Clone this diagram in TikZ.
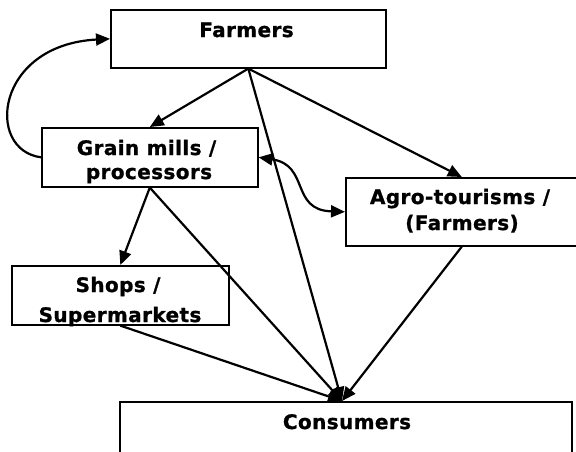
\documentclass[tikz,border=0pt]{standalone}
\usepackage{fontspec}
\setmainfont{DejaVu Sans}
\newfontfamily\lblfont{DejaVu Sans}[LetterSpace=2,FakeBold=1]
\usetikzlibrary{arrows.meta}
\begin{document}
\begin{tikzpicture}[x=1pt,y=-1pt,
  box/.style={draw, line width=1.6pt, rectangle, inner sep=0pt, anchor=north west},
  lbl/.style={anchor=base, inner sep=0pt, font=\lblfont\bfseries\fontsize{20}{24}\selectfont},
  tip/.style={Triangle[length=14pt,width=12pt]},
  conn/.style={line width=2.2pt, -{Triangle[length=14pt,width=12pt]}},
  dconn/.style={line width=2.2pt, {Triangle[length=14pt,width=12pt]}-{Triangle[length=14pt,width=12pt]}}]
\clip (0,0) rectangle (576,451);
% boxes
\node[box, minimum width=275pt, minimum height=58pt] (farm) at (110,9) {};
\node[box, minimum width=216pt, minimum height=59pt] (grain) at (41,127) {};
\node[box, minimum width=232pt, minimum height=68pt] (agro) at (345,177) {};
\node[box, minimum width=217pt, minimum height=59pt] (shops) at (11,265) {};
\node[box, minimum width=452pt, minimum height=80pt] (cons) at (119,401) {};
% labels
\node[lbl] (tF) at (246.5,37) {Farmers};
\node[lbl] (tG1) at (146.5,155) {Grain mills /};
\node[lbl] (tG2) at (149,179) {processors};
\node[lbl] (tA1) at (460,204) {Agro-tourisms /};
\node[lbl] (tA2) at (462,230) {(Farmers)};
\node[lbl] (tS1) at (118,292) {Shops /};
\node[lbl] (tS2) at (120,322) {Supermarkets};
\node[lbl] (tC) at (347,429) {Consumers};
% connectors
\coordinate (cin) at (342,401);
\draw[conn] (farm.south) -- (grain.north);
\draw[conn] (farm.south) -- (agro.north);
\draw[conn] (farm.south) -- (cin);
\draw[conn] (grain.south) -- (shops.north);
\draw[conn] (grain.south) -- (cin);
\draw[conn] (shops.south) -- (cin);
\draw[conn] (agro.south) -- (cin);
\draw[conn] (grain.west) .. controls (-15,150) and (-5,45) .. (farm.west);
\draw[dconn] (grain.east) .. controls (310,165) and (290,210) .. (agro.west);
\end{tikzpicture}
\end{document}
